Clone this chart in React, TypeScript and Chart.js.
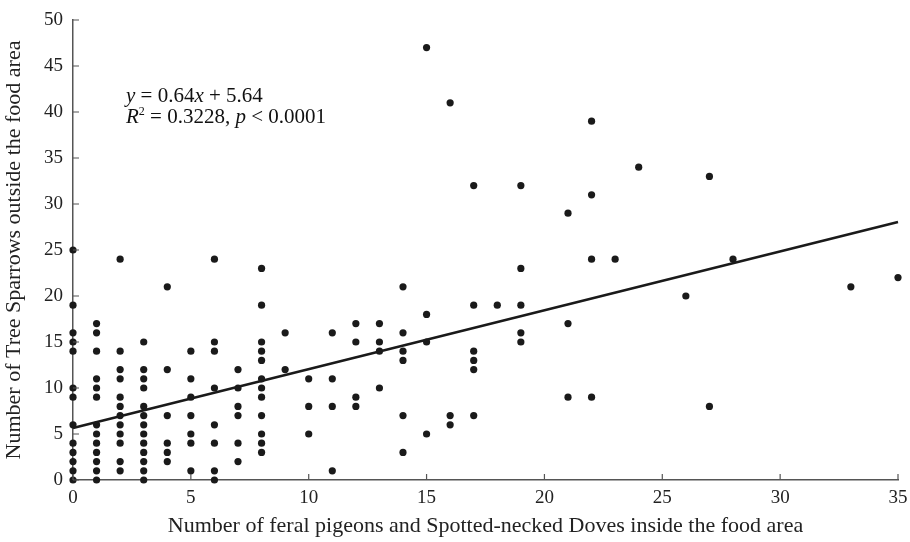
import React, { useEffect, useRef } from "react";
import { Chart, registerables } from "chart.js";

Chart.register(...registerables);

// Scatter data grouped by x value
const xValues: number[] = [0, 1, 2, 3, 4, 5, 6, 7, 8, 9, 10, 11, 12, 13, 14, 15, 16, 17, 18, 19, 21, 22, 23, 24, 26, 27, 28, 33, 35];
const yGroups: number[][] = [
  [25, 19, 16, 15, 14, 10, 9, 6, 4, 3, 2, 1, 0],
  [17, 16, 14, 11, 10, 9, 6, 5, 4, 3, 2, 1, 0],
  [24, 14, 12, 11, 9, 8, 7, 6, 5, 4, 2, 1],
  [15, 12, 11, 10, 8, 7, 6, 5, 4, 3, 2, 1, 0],
  [21, 12, 7, 4, 3, 2],
  [14, 11, 9, 7, 5, 4, 1],
  [24, 15, 14, 10, 6, 4, 1, 0],
  [12, 10, 8, 7, 4, 2],
  [23, 19, 15, 14, 13, 11, 10, 9, 7, 5, 4, 3],
  [16, 12],
  [11, 8, 5],
  [16, 11, 8, 1],
  [17, 15, 9, 8],
  [17, 15, 14, 10],
  [21, 16, 14, 13, 7, 3],
  [47, 18, 15, 5],
  [41, 7, 6],
  [32, 19, 14, 13, 12, 7],
  [19],
  [32, 23, 19, 16, 15],
  [29, 17, 9],
  [39, 31, 24, 9],
  [24],
  [34],
  [20],
  [33, 8],
  [24],
  [21],
  [22],
];

// Regression: y = slope * x + intercept
const slope = 0.64;
const intercept = 5.64;
const fitX: number[] = [0, 35];

const xTicks: number[] = [0, 5, 10, 15, 20, 25, 30, 35];
const yTicks: number[] = [0, 5, 10, 15, 20, 25, 30, 35, 40, 45, 50];

const xTitle = "Number of feral pigeons and Spotted-necked Doves inside the food area";
const yTitle = "Number of Tree Sparrows outside the food area";

const FONT = '"Liberation Serif", "Times New Roman", serif';

export default function App() {
  const ref = useRef<HTMLCanvasElement | null>(null);

  useEffect(() => {
    document.body.style.margin = "0";
    const canvas = ref.current;
    if (!canvas) return;

    const points: { x: number; y: number }[] = [];
    xValues.forEach((x, i) => {
      yGroups[i].forEach((y) => points.push({ x, y }));
    });
    const fit = fitX.map((x) => ({ x, y: slope * x + intercept }));

    const innerTicks = {
      id: "innerTicks",
      afterDatasetsDraw(chart: any) {
        const ctx = chart.ctx;
        const xs = chart.scales.x;
        const ys = chart.scales.y;
        const area = chart.chartArea;
        ctx.save();
        ctx.strokeStyle = "#555";
        ctx.lineWidth = 1.2;
        ctx.beginPath();
        xTicks.forEach((t) => {
          const px = xs.getPixelForValue(t);
          ctx.moveTo(px, area.bottom);
          ctx.lineTo(px, area.bottom - 6);
        });
        yTicks.forEach((t) => {
          const py = ys.getPixelForValue(t);
          ctx.moveTo(area.left, py);
          ctx.lineTo(area.left + 6, py);
        });
        ctx.stroke();

        // annotation text
        const tx = xs.getPixelForValue(0) + 53;
        const ty1 = ys.getPixelForValue(50) + 82;
        const ty2 = ty1 + 21;
        ctx.fillStyle = "#111";
        ctx.textBaseline = "alphabetic";
        ctx.textAlign = "left";
        const reg = `21px ${FONT}`;
        const ita = `italic 21px ${FONT}`;
        const sup = `12px ${FONT}`;
        const draw = (parts: [string, string, number][], x: number, y: number) => {
          let cx = x;
          parts.forEach(([txt, font, dy]) => {
            ctx.font = font;
            ctx.fillText(txt, cx, y + dy);
            cx += ctx.measureText(txt).width;
          });
        };
        draw(
          [
            ["y", ita, 0],
            [" = 0.64", reg, 0],
            ["x", ita, 0],
            [" + 5.64", reg, 0],
          ],
          tx,
          ty1
        );
        draw(
          [
            ["R", ita, 0],
            ["2", sup, -8],
            [" = 0.3228, ", reg, 0],
            ["p", ita, 0],
            [" < 0.0001", reg, 0],
          ],
          tx,
          ty2
        );
        ctx.restore();
      },
    };

    const chart = new Chart(canvas, {
      type: "scatter",
      data: {
        datasets: [
          {
            type: "scatter",
            data: points,
            backgroundColor: "#1a1a1a",
            borderColor: "#1a1a1a",
            pointRadius: 3.6,
            pointHoverRadius: 3.6,
            borderWidth: 0,
            clip: false,
            order: 2,
          } as any,
          {
            type: "line",
            data: fit,
            borderColor: "#1a1a1a",
            borderWidth: 2.6,
            pointRadius: 0,
            fill: false,
            clip: false,
            order: 1,
          } as any,
        ],
      },
      options: {
        animation: false,
        responsive: false,
        maintainAspectRatio: false,
        layout: { padding: { top: 20, right: 12, left: 0, bottom: 0 } },
        plugins: { legend: { display: false }, tooltip: { enabled: false } },
        scales: {
          x: {
            type: "linear",
            min: 0,
            max: 35,
            afterBuildTicks(scale: any) {
              scale.ticks = xTicks.map((v) => ({ value: v }));
            },
            afterFit(scale: any) {
              scale.height = 62;
              scale.paddingLeft = 0;
              scale.paddingRight = 0;
            },
            grid: { display: false, drawTicks: false },
            border: { display: true, color: "#555", width: 1.5 },
            ticks: {
              color: "#222",
              font: { family: FONT, size: 19 },
              padding: 7,
            },
            title: {
              display: true,
              text: xTitle,
              color: "#222",
              font: { family: FONT, size: 22 },
              padding: { top: 0, bottom: 3 },
            },
          },
          y: {
            type: "linear",
            min: 0,
            max: 50,
            afterBuildTicks(scale: any) {
              scale.ticks = yTicks.map((v) => ({ value: v }));
            },
            afterFit(scale: any) {
              scale.width = 73;
              scale.paddingTop = 0;
              scale.paddingBottom = 0;
            },
            grid: { display: false, drawTicks: false },
            border: { display: true, color: "#555", width: 1.5 },
            ticks: {
              color: "#222",
              font: { family: FONT, size: 19 },
              padding: 10,
            },
            title: {
              display: true,
              text: yTitle,
              color: "#222",
              font: { family: FONT, size: 22 },
              padding: { top: 1, bottom: 0 },
            },
          },
        },
      },
      plugins: [innerTicks],
    });

    return () => chart.destroy();
  }, []);

  return (
    <div style={{ position: "absolute", left: 0, top: 0, width: 910, height: 542, background: "#fff" }}>
      <canvas ref={ref} width={910} height={542} style={{ width: 910, height: 542 }} />
    </div>
  );
}
